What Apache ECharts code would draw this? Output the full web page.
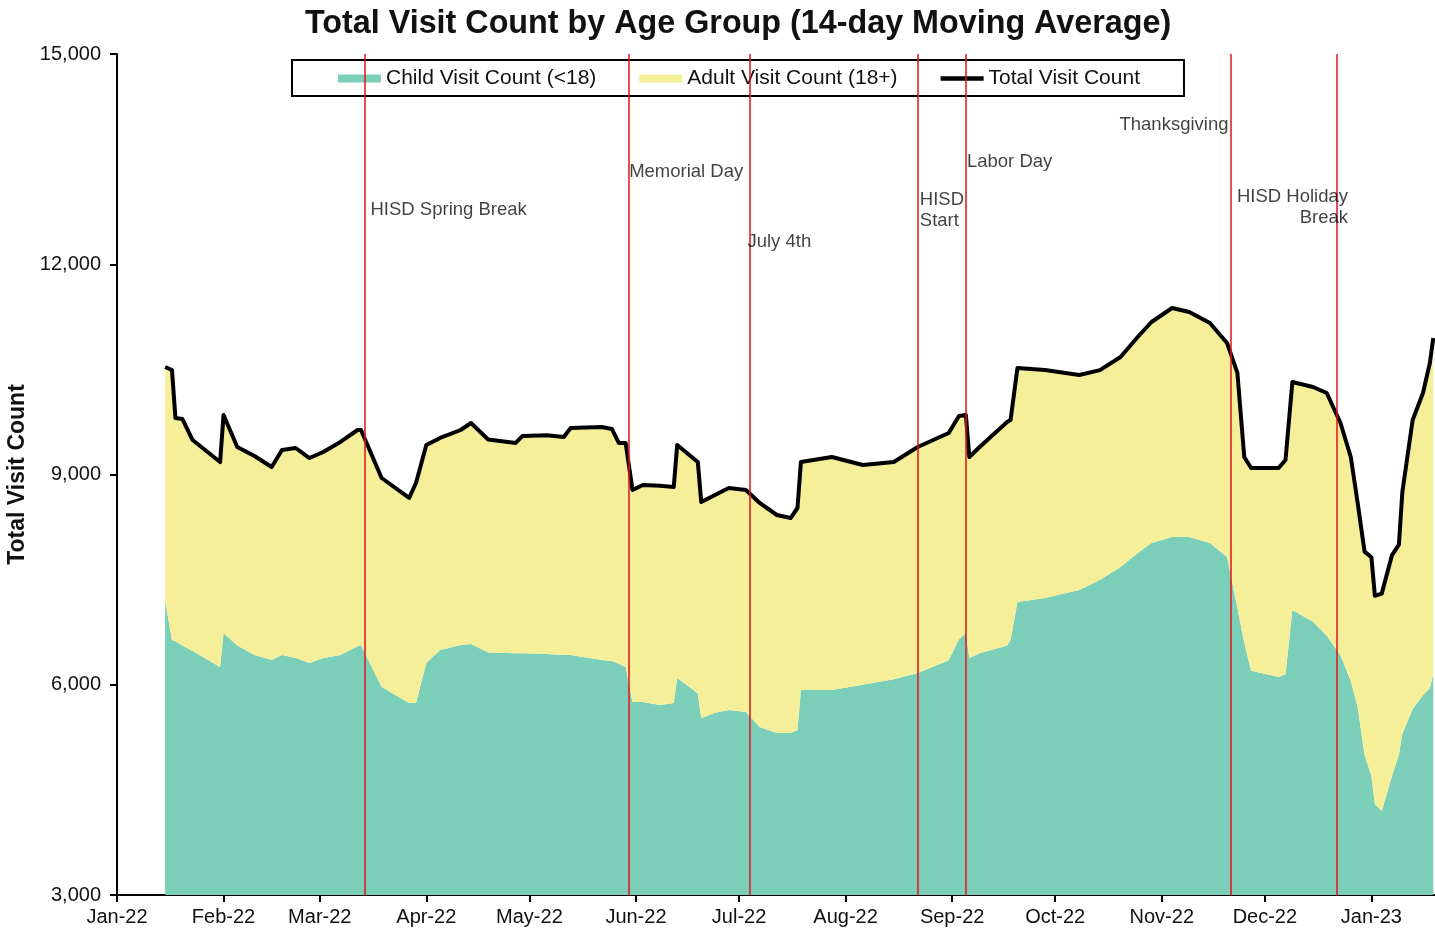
<!DOCTYPE html>
<html>
<head>
<meta charset="utf-8">
<title>Total Visit Count by Age Group</title>
<script src="https://cdn.jsdelivr.net/npm/echarts@6.0.0/dist/echarts.min.js"></script>
<style>
  html, body { margin: 0; padding: 0; background: #fff; }
  #chart { width: 1435px; height: 930px; }
</style>
</head>
<body>
<div id="chart"></div>
<script>
// 14-day moving averages
const dates = [
  '2022-01-15', '2022-01-17', '2022-01-18', '2022-01-20', '2022-01-23', '2022-01-31', '2022-02-01',
  '2022-02-05', '2022-02-10', '2022-02-15', '2022-02-18', '2022-02-22', '2022-02-26', '2022-03-02',
  '2022-03-07', '2022-03-12', '2022-03-13', '2022-03-19', '2022-03-27', '2022-03-29', '2022-04-01',
  '2022-04-05', '2022-04-11', '2022-04-14', '2022-04-19', '2022-04-27', '2022-04-29', '2022-05-06',
  '2022-05-11', '2022-05-13', '2022-05-22', '2022-05-25', '2022-05-27', '2022-05-29', '2022-05-31',
  '2022-06-03', '2022-06-08', '2022-06-12', '2022-06-13', '2022-06-19', '2022-06-20', '2022-06-24',
  '2022-06-28', '2022-07-03', '2022-07-07', '2022-07-12', '2022-07-16', '2022-07-18', '2022-07-19',
  '2022-07-28', '2022-08-06', '2022-08-15', '2022-08-22', '2022-08-31', '2022-09-03', '2022-09-05',
  '2022-09-06', '2022-09-09', '2022-09-17', '2022-09-18', '2022-09-20', '2022-09-28', '2022-10-08',
  '2022-10-14', '2022-10-20', '2022-10-25', '2022-10-29', '2022-11-04', '2022-11-09', '2022-11-15',
  '2022-11-20', '2022-11-23', '2022-11-25', '2022-11-27', '2022-12-05', '2022-12-07', '2022-12-09',
  '2022-12-15', '2022-12-19', '2022-12-23', '2022-12-26', '2022-12-28', '2022-12-30', '2023-01-01',
  '2023-01-02', '2023-01-04', '2023-01-07', '2023-01-09', '2023-01-10', '2023-01-13', '2023-01-16',
  '2023-01-18', '2023-01-19'
];

const totalVisits = [
  10534, 10491, 9806, 9792, 9492, 9178, 9849,
  9393, 9264, 9107, 9350, 9378, 9235, 9321,
  9464, 9635, 9635, 8950, 8665, 8880, 9421,
  9521, 9635, 9735, 9500, 9450, 9550, 9560,
  9535, 9664, 9678, 9650, 9450, 9450, 8779,
  8850, 8840, 8822, 9421, 9178, 8608, 8708,
  8807, 8779, 8594, 8422, 8379, 8522, 9178,
  9250, 9136, 9178, 9393, 9592, 9835, 9849,
  9250, 9393, 9749, 9778, 10520, 10491, 10420,
  10490, 10677, 10962, 11176, 11376, 11319, 11162,
  10876, 10449, 9250, 9093, 9093, 9207, 10320,
  10249, 10163, 9735, 9250, 8594, 7900, 7820,
  7270, 7300, 7850, 8000, 8750, 9778, 10163,
  10591, 10948
];

const childVisits = [
  7200, 6639, 6620, 6560, 6480, 6253, 6738,
  6560, 6425, 6353, 6425, 6382, 6310, 6380,
  6425, 6550, 6567, 5968, 5740, 5740, 6310,
  6496, 6567, 6580, 6460, 6450, 6450, 6440,
  6425, 6425, 6353, 6340, 6300, 6253, 5754,
  5754, 5711, 5740, 6096, 5880, 5526, 5600,
  5640, 5611, 5397, 5312, 5312, 5354, 5925,
  5925, 6000, 6080, 6168, 6350, 6650, 6738,
  6380, 6450, 6560, 6639, 7181, 7238, 7352,
  7495, 7680, 7880, 8023, 8108, 8108, 8023,
  7823, 7100, 6600, 6200, 6111, 6150, 7067,
  6900, 6700, 6420, 6050, 5683, 5000, 4700,
  4300, 4200, 4700, 5000, 5300, 5650, 5850,
  5950, 6150
];

// adult = total - child (stacked on top of child)
const adultVisits = totalVisits.map((t, i) => t - childVisits[i]);

// event markers
const eventDates = ['2022-03-14', '2022-05-30', '2022-07-04', '2022-08-22', '2022-09-05', '2022-11-21', '2022-12-22'];
const eventNames = ['HISD Spring Break', 'Memorial Day', 'July 4th', 'HISD\nStart', 'Labor Day', 'Thanksgiving', 'HISD Holiday\nBreak'];
const eventLabelY = [12774, 13316, 12318, 12774, 13459, 13987, 12817];
const eventLabelSide = ['right', 'right', 'right', 'right', 'right', 'left', 'left'];
const eventLabelShift = [6, 0, -2, 2, 1, 2, -11];

const monthNames = ['Jan', 'Feb', 'Mar', 'Apr', 'May', 'Jun', 'Jul', 'Aug', 'Sep', 'Oct', 'Nov', 'Dec'];
const FONT = '"Liberation Sans", Arial, sans-serif';
const DAY = 24 * 3600 * 1000;

const chart = echarts.init(document.getElementById('chart'), null, { renderer: 'canvas' });

const annotData = eventDates.map((d, i) => ({
  value: [d, eventLabelY[i]],
  label: {
    position: eventLabelSide[i],
    distance: eventLabelSide[i] === 'right' ? eventLabelShift[i] : 0,
    offset: eventLabelSide[i] === 'left' ? [-eventLabelShift[i], 0] : [0, 0],
    align: eventLabelSide[i] === 'left' ? 'right' : 'left',
    formatter: eventNames[i]
  }
}));

const option = {
  animation: false,
  backgroundColor: '#fff',
  textStyle: { fontFamily: FONT },
  title: {
    text: 'Total Visit Count by Age Group (14-day Moving Average)',
    left: 305,
    top: 8,
    padding: 0,
    textStyle: { fontFamily: FONT, fontSize: 32.3, fontWeight: 'bold', color: '#111' }
  },
  legend: {
    left: 292,
    top: 60,
    padding: [8, 44, 7, 46],
    itemGap: 43,
    itemWidth: 43,
    itemHeight: 8,
    borderColor: '#000',
    borderWidth: 2,
    backgroundColor: '#fff',
    textStyle: { fontFamily: FONT, fontSize: 21, color: '#111' },
    data: [
      { name: 'Child Visit Count (<18)', icon: 'rect' },
      { name: 'Adult Visit Count (18+)', icon: 'rect' },
      { name: 'Total Visit Count', icon: 'path://M0 0 H50 V5 H0 Z' }
    ]
  },
  grid: {
    left: 117,
    right: 0,
    top: 54,
    bottom: 35,
    containLabel: false,
    outerBoundsMode: 'none'
  },
  xAxis: {
    type: 'time',
    min: '2022-01-01',
    max: '2023-01-19T12:00:00',
    splitNumber: 13,
    minInterval: 28 * DAY,
    maxInterval: 31 * DAY,
    axisLine: { lineStyle: { color: '#000', width: 2 } },
    axisTick: { show: true, length: 7, lineStyle: { color: '#000', width: 2 } },
    splitLine: { show: false },
    axisLabel: {
      color: '#111',
      fontSize: 20,
      fontFamily: FONT,
      margin: 12,
      showMinLabel: true,
      formatter: (val) => {
        const d = new Date(val);
        return monthNames[d.getMonth()] + '-' + String(d.getFullYear()).slice(2);
      }
    }
  },
  yAxis: {
    type: 'value',
    min: 3000,
    max: 15000,
    interval: 3000,
    name: 'Total Visit Count',
    nameLocation: 'middle',
    nameGap: 84,
    nameRotate: 90,
    nameTextStyle: { fontFamily: FONT, fontSize: 23, fontWeight: 'bold', color: '#111' },
    axisLine: { show: true, lineStyle: { color: '#000', width: 2 } },
    axisTick: { show: true, length: 7, lineStyle: { color: '#000', width: 2 } },
    splitLine: { show: false },
    axisLabel: {
      color: '#111',
      fontSize: 20,
      fontFamily: FONT,
      margin: 16,
      formatter: (v) => v.toLocaleString('en-US')
    }
  },
  series: [
    {
      name: 'Child Visit Count (<18)',
      type: 'line',
      stack: 'visits',
      symbol: 'none',
      color: '#7BCFB9',
      lineStyle: { width: 0 },
      areaStyle: { color: '#7BCFB9', opacity: 1 },
      data: dates.map((d, i) => [d, childVisits[i]]),
      z: 1
    },
    {
      name: 'Adult Visit Count (18+)',
      type: 'line',
      stack: 'visits',
      symbol: 'none',
      color: '#F6EF99',
      lineStyle: { width: 0 },
      areaStyle: { color: '#F6EF99', opacity: 1 },
      data: dates.map((d, i) => [d, adultVisits[i]]),
      z: 1
    },
    {
      name: 'Total Visit Count',
      type: 'line',
      symbol: 'none',
      color: '#000',
      lineStyle: { color: '#000', width: 4, join: 'round' },
      data: dates.map((d, i) => [d, totalVisits[i]]),
      z: 3,
      markLine: {
        silent: true,
        symbol: ['none', 'none'],
        label: { show: false },
        lineStyle: { color: '#e3101a', type: 'solid', width: 1.5 },
        data: eventDates.map(d => ({ xAxis: d }))
      }
    },
    {
      name: 'events',
      type: 'scatter',
      symbolSize: 0.1,
      itemStyle: { color: 'rgba(0,0,0,0)' },
      silent: true,
      z: 5,
      label: {
        show: true,
        fontFamily: FONT,
        fontSize: 18.5,
        lineHeight: 21,
        color: '#111'
      },
      data: annotData
    }
  ]
};

chart.setOption(option);
</script>
</body>
</html>
